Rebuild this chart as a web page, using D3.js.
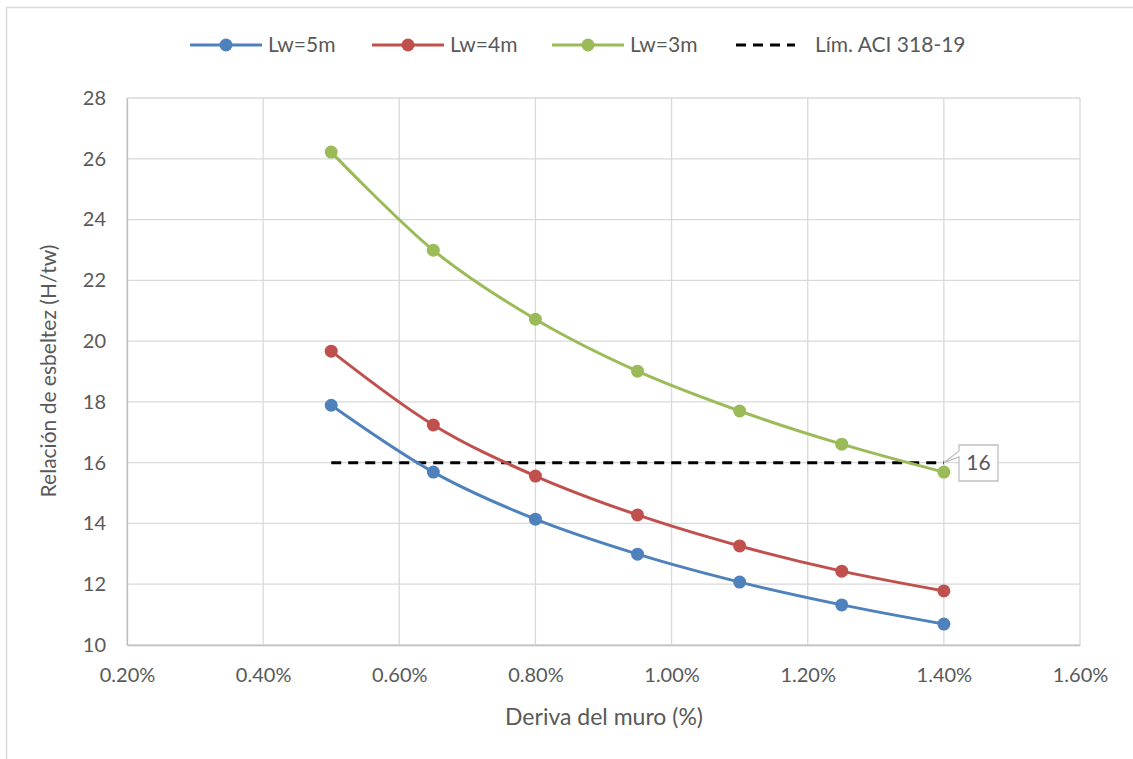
<!DOCTYPE html>
<html>
<head>
<meta charset="utf-8">
<script src="https://cdn.jsdelivr.net/npm/d3@7"></script>
<style>
body { margin: 0; background: #fff; }
svg { display: block; font-family: Lato, "Open Sans", sans-serif; }
</style>
</head>
<body>
<svg id="chart" width="1133" height="759"></svg>
<script>
const drift = [0.50, 0.65, 0.80, 0.95, 1.10, 1.25, 1.40];
const lw5 = [17.89, 15.69, 14.14, 12.99, 12.07, 11.32, 10.69];
const lw4 = [19.67, 17.24, 15.56, 14.28, 13.26, 12.43, 11.78];
const lw3 = [26.22, 22.99, 20.72, 19.01, 17.70, 16.61, 15.69];
const limitX = [0.50, 1.40];
const limitY = [16, 16];
const xTicks = [0.2, 0.4, 0.6, 0.8, 1.0, 1.2, 1.4, 1.6];
const yTicks = [10, 12, 14, 16, 18, 20, 22, 24, 26, 28];
const seriesNames = ["Lw=5m", "Lw=4m", "Lw=3m", "Lím. ACI 318-19"];
const seriesColors = ["#4f81bd", "#c0504d", "#9bbb59", "#000000"];

const svg = d3.select("#chart");
const x = d3.scaleLinear().domain([0.2, 1.6]).range([127, 1080]);
const y = d3.scaleLinear().domain([10, 28]).range([645, 98]);

// outer border
svg.append("path").attr("d", "M6.5,759 V7.5 H1133").attr("fill", "none").attr("stroke", "#d9d9d9").attr("stroke-width", 1.5);

// gridlines
svg.append("g").selectAll("line.h").data(yTicks).join("line")
  .attr("x1", x(0.2)).attr("x2", x(1.6)).attr("y1", d => y(d)).attr("y2", d => y(d))
  .attr("stroke", "#d9d9d9").attr("stroke-width", 1.3);
svg.append("g").selectAll("line.v").data(xTicks).join("line")
  .attr("x1", d => x(d)).attr("x2", d => x(d)).attr("y1", y(10)).attr("y2", y(28))
  .attr("stroke", "#d9d9d9").attr("stroke-width", 1.3);

// axes
const xAxis = svg.append("g").attr("transform", `translate(0,${y(10)})`)
  .call(d3.axisBottom(x).tickValues(xTicks).tickSize(0).tickPadding(23).tickFormat(d => d.toFixed(2) + "%"));
const yAxis = svg.append("g").attr("transform", `translate(${x(0.2)},0)`)
  .call(d3.axisLeft(y).tickValues(yTicks).tickSize(0).tickPadding(21).tickFormat(d3.format("d")));
[xAxis, yAxis].forEach(a => {
  a.select(".domain").attr("stroke", "#bfbfbf").attr("stroke-width", 1.3);
  a.selectAll("text").attr("font-size", 20).attr("fill", "#595959").attr("font-family", "Lato, sans-serif");
});

// axis titles
svg.append("text").attr("x", 604).attr("y", 725).attr("text-anchor", "middle")
  .attr("font-size", 23).attr("fill", "#595959").text("Deriva del muro (%)");
svg.append("text").attr("transform", "translate(56,371) rotate(-90)").attr("text-anchor", "middle")
  .attr("font-size", 21).attr("fill", "#595959").text("Relación de esbeltez (H/tw)");

// limit line
const limitData = limitX.map((d, i) => [d, limitY[i]]);
svg.append("path").datum(limitData)
  .attr("d", d3.line().x(d => x(d[0])).y(d => y(d[1])))
  .attr("stroke", "#000").attr("stroke-width", 3).attr("stroke-dasharray", "10,7").attr("fill", "none");

// series
const series = [lw5, lw4, lw3];
const line = d3.line().x(d => x(d[0])).y(d => y(d[1])).curve(d3.curveCatmullRom.alpha(0));
series.forEach((vals, i) => {
  const data = drift.map((d, j) => [d, vals[j]]);
  const g = svg.append("g");
  g.append("path").datum(data).attr("d", line).attr("fill", "none")
    .attr("stroke", seriesColors[i]).attr("stroke-width", 3);
  g.selectAll("circle").data(data).join("circle")
    .attr("cx", d => x(d[0])).attr("cy", d => y(d[1])).attr("r", 6.5)
    .attr("fill", seriesColors[i]);
});

// data label callout "16"
const lx = x(limitX[1]), ly = y(limitY[1]);
const bx = 959, by = 445, bw = 39, bh = 36;
svg.append("path")
  .attr("d", `M${bx},${by} H${bx + bw} V${by + bh} H${bx} V${by + 12} L${lx},${ly} L${bx},${by + 6} Z`)
  .attr("fill", "#fff").attr("stroke", "#bfbfbf").attr("stroke-width", 1.3);
svg.append("text").attr("x", bx + bw / 2).attr("y", by + bh / 2 + 7).attr("text-anchor", "middle")
  .attr("font-size", 21).attr("fill", "#595959").text(limitY[1]);

// legend
const legendX = [190, 372, 552, 736];
const legendW = [72, 72, 72, 59];
const lg = svg.append("g");
seriesNames.forEach((name, i) => {
  const g = lg.append("g");
  const x0 = legendX[i];
  if (i < 3) {
    g.append("line").attr("x1", x0).attr("x2", x0 + legendW[i]).attr("y1", 45).attr("y2", 45)
      .attr("stroke", seriesColors[i]).attr("stroke-width", 3);
    g.append("circle").attr("cx", x0 + legendW[i] / 2).attr("cy", 45).attr("r", 6.5).attr("fill", seriesColors[i]);
  } else {
    g.append("line").attr("x1", x0).attr("x2", x0 + legendW[i]).attr("y1", 45).attr("y2", 45)
      .attr("stroke", "#000").attr("stroke-width", 3).attr("stroke-dasharray", "10,7");
  }
  g.append("text").attr("x", x0 + legendW[i] + (i < 3 ? 6 : 20)).attr("y", 52)
    .attr("font-size", 21).attr("fill", "#595959").text(name);
});
</script>
</body>
</html>
